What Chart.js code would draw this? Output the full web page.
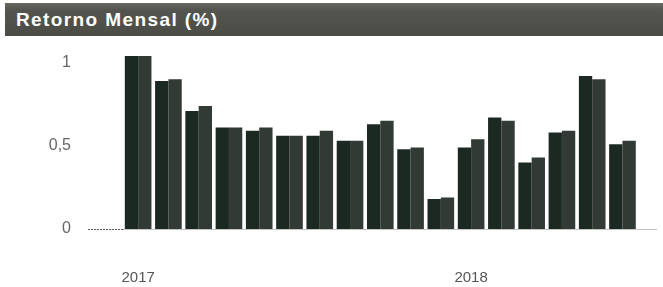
<!DOCTYPE html>
<html>
<head>
<meta charset="utf-8">
<script src="https://cdn.jsdelivr.net/npm/chart.js@4/dist/chart.umd.min.js"></script>
<style>
  html, body { margin: 0; padding: 0; background: #ffffff; }
  #wrap { position: relative; width: 663px; height: 287px; overflow: hidden; background: #fff; }
  #title {
    position: absolute; left: 5px; top: 3px; width: 658px; height: 33px;
    background: linear-gradient(#6a6a62 0%, #555550 20%, #4c4c47 100%);
    color: #ffffff; font-family: "Liberation Sans", Arial, sans-serif; font-weight: bold;
    font-size: 19px; letter-spacing: 1.4px; line-height: 33px; padding-left: 11px; box-sizing: border-box;
  }
  canvas { position: absolute; left: 0; top: 0; }
</style>
</head>
<body>
<div id="wrap">
  <canvas id="c" width="663" height="287"></canvas>
  <div id="title">Retorno Mensal (%)</div>
</div>
<script>
const months = ['fev/17','mar/17','abr/17','mai/17','jun/17','jul/17','ago/17','set/17','out/17','nov/17','dez/17','jan/18','fev/18','mar/18','abr/18','mai/18','jun/18'];
const yearLabels = ['2017','','','','','','','','','','','2018','','','','',''];
const seriesA = [1.04, 0.89, 0.71, 0.61, 0.59, 0.56, 0.56, 0.53, 0.63, 0.48, 0.18, 0.49, 0.67, 0.40, 0.58, 0.92, 0.51];
const seriesB = [1.04, 0.90, 0.74, 0.61, 0.61, 0.56, 0.59, 0.53, 0.65, 0.49, 0.19, 0.54, 0.65, 0.43, 0.59, 0.90, 0.53];
const yTicks = [0, 0.5, 1];

const baseline = {
  id: 'baseline',
  beforeDatasetsDraw(chart) {
    const ctx = chart.ctx, y = Math.round(chart.scales.y.getPixelForValue(0)), a = chart.chartArea;
    ctx.save();
    ctx.lineWidth = 1;
    ctx.strokeStyle = '#5a5a5a';
    ctx.setLineDash([2, 1]);
    ctx.beginPath(); ctx.moveTo(88, y + 0.5); ctx.lineTo(a.left, y + 0.5); ctx.stroke();
    ctx.setLineDash([]);
    ctx.strokeStyle = '#c4c4c4';
    ctx.beginPath(); ctx.moveTo(a.left, y + 0.5); ctx.lineTo(657, y + 0.5); ctx.stroke();
    ctx.restore();
  }
};

new Chart(document.getElementById('c'), {
  type: 'bar',
  data: {
    labels: months,
    datasets: [
      { data: seriesA, backgroundColor: '#1c2822', borderWidth: 0 },
      { data: seriesB, backgroundColor: '#323a35', borderWidth: 0 }
    ]
  },
  options: {
    responsive: false,
    animation: false,
    layout: { padding: { top: 46, right: 18, bottom: 0, left: 0 } },
    datasets: { bar: { categoryPercentage: 0.88, barPercentage: 1.0 } },
    plugins: { legend: { display: false }, tooltip: { enabled: false }, title: { display: false } },
    scales: {
      x: {
        afterFit: s => { s.height = 58; s.paddingTop = 0; s.paddingBottom = 0; },
        grid: { display: false, drawTicks: false },
        border: { display: false },
        ticks: {
          autoSkip: false, maxRotation: 0, padding: 40,
          color: '#555', font: { family: 'Liberation Sans', size: 15 },
          callback: (v, i) => yearLabels[i]
        }
      },
      y: {
        min: 0, max: 1.1,
        afterBuildTicks: s => { s.ticks = yTicks.map(v => ({ value: v })); },
        afterFit: s => { s.width = 123; s.paddingTop = 0; s.paddingBottom = 0; },
        grid: { display: false, drawTicks: false },
        border: { display: false },
        ticks: {
          padding: 52, color: '#666',
          font: { family: 'Liberation Sans', size: 16 },
          callback: v => String(v).replace('.', ',')
        }
      }
    }
  },
  plugins: [baseline]
});
</script>
</body>
</html>
